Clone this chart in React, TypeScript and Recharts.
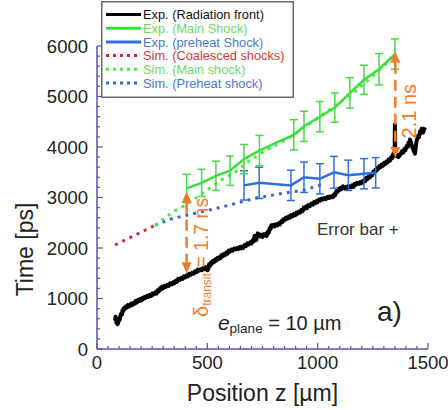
import React from 'react';
import { LineChart, Line, XAxis, YAxis, ErrorBar, ReferenceLine, ReferenceDot, Legend } from 'recharts';

const FONT = '"Liberation Sans", Arial, Helvetica, sans-serif';
const AXIS = '#5252b8';
const ORANGE = '#f07b2c';

// ---- data (x: position z [µm], y: time [ps]) ----
const radiationFront: [number, number][] = [
  [82, 560], [84, 640], [86, 600], [88, 520], [90, 540], [93, 490], [96, 520], [100, 600], [103, 580], [106, 660],
  [110, 700], [113, 680], [116, 770], [119, 750], [122, 810], [126, 790], [130, 840], [135, 820], [140, 870],
  [145, 840], [150, 860], [155, 900], [160, 870], [165, 910], [170, 900], [175, 950], [180, 920], [185, 970],
  [190, 950], [195, 990], [200, 960], [205, 1010], [210, 990], [215, 1030], [220, 1010], [226, 1050], [232, 1030],
  [238, 1070], [245, 1050], [251, 1100], [258, 1080], [264, 1120], [270, 1100], [275, 1160], [280, 1140],
  [285, 1200], [290, 1180], [295, 1230], [300, 1200], [306, 1250], [312, 1230], [318, 1270], [325, 1250],
  [331, 1300], [338, 1280], [344, 1320], [350, 1300], [356, 1350], [362, 1330], [368, 1390], [375, 1370],
  [381, 1410], [388, 1390], [394, 1440], [400, 1420], [406, 1460], [412, 1440], [418, 1490], [425, 1470],
  [431, 1510], [438, 1490], [444, 1540], [450, 1520], [456, 1570], [462, 1550], [468, 1580], [475, 1560],
  [481, 1600], [487, 1580], [492, 1620], [497, 1590], [501, 1560], [505, 1600], [508, 1680], [512, 1640],
  [516, 1710], [520, 1690], [525, 1740], [530, 1720], [535, 1770], [540, 1750], [545, 1800], [550, 1780],
  [555, 1820], [560, 1800], [565, 1860], [570, 1840], [575, 1880], [580, 1860], [586, 1910], [592, 1890],
  [597, 1950], [603, 1930], [609, 1970], [615, 1950], [621, 1990], [628, 1970], [634, 2000], [640, 1980],
  [646, 2020], [652, 1990], [657, 2030], [663, 2000], [669, 2060], [675, 2040], [681, 2090], [688, 2070],
  [694, 2110], [700, 2090], [705, 2150], [710, 2130], [714, 2240], [718, 2200], [722, 2160], [725, 2230],
  [728, 2290], [731, 2250], [736, 2270], [740, 2230], [745, 2260], [750, 2220], [755, 2270], [760, 2250],
  [765, 2280], [769, 2240], [774, 2320], [778, 2300], [782, 2390], [786, 2370], [790, 2450], [794, 2420],
  [800, 2460], [805, 2430], [811, 2470], [817, 2450], [823, 2490], [829, 2470], [835, 2530], [840, 2510],
  [845, 2570], [850, 2550], [856, 2600], [862, 2580], [868, 2620], [874, 2600], [880, 2650], [886, 2630],
  [892, 2670], [898, 2650], [904, 2700], [910, 2680], [915, 2720], [920, 2700], [926, 2750], [932, 2730],
  [937, 2800], [942, 2780], [947, 2820], [952, 2790], [958, 2850], [965, 2830], [971, 2880], [978, 2860],
  [984, 2910], [990, 2890], [995, 2930], [1000, 2910], [1006, 2960], [1012, 2940], [1018, 2980], [1025, 2960],
  [1031, 2990], [1038, 2970], [1044, 3010], [1050, 2990], [1055, 3020], [1060, 3000], [1066, 3030], [1071, 3010],
  [1076, 3070], [1080, 3050], [1085, 3130], [1090, 3110], [1095, 3170], [1100, 3150], [1105, 3190], [1110, 3170],
  [1115, 3220], [1120, 3200], [1125, 3180], [1130, 3210], [1135, 3190], [1140, 3230], [1145, 3210], [1150, 3200],
  [1156, 3240], [1162, 3210], [1167, 3270], [1172, 3250], [1178, 3290], [1185, 3270], [1191, 3300], [1197, 3280],
  [1202, 3320], [1207, 3300], [1212, 3350], [1217, 3330], [1222, 3390], [1227, 3370], [1232, 3420], [1237, 3400],
  [1242, 3460], [1247, 3440], [1252, 3510], [1257, 3490], [1262, 3550], [1267, 3530], [1271, 3590], [1275, 3570],
  [1280, 3620], [1285, 3600], [1290, 3650], [1296, 3630], [1301, 3680], [1306, 3660], [1311, 3710], [1316, 3690],
  [1322, 3750], [1328, 3730], [1333, 3800], [1338, 3780], [1342, 3860], [1346, 3840], [1349, 3900], [1350, 4450],
  [1352, 3860], [1356, 3820], [1360, 3850], [1366, 3800], [1373, 3840], [1378, 3880], [1383, 3920], [1388, 3890],
  [1393, 3960], [1398, 3940], [1403, 4020], [1408, 4000], [1412, 4090], [1415, 4060], [1418, 4150], [1422, 4100],
  [1426, 4040], [1430, 3980], [1434, 3940], [1438, 3900], [1441, 3870], [1444, 3980], [1448, 4120], [1452, 4160],
  [1456, 4230], [1460, 4200], [1464, 4310], [1468, 4280], [1471, 4360], [1475, 4320], [1478, 4290], [1482, 4350],
  [1486, 4390],
];

const mainShockX = [406, 474, 539, 603, 666, 736, 810, 892, 938, 1010, 1078, 1146, 1210, 1278, 1350];
const mainShockY = [3180, 3290, 3430, 3530, 3760, 3930, 4080, 4240, 4410, 4600, 4780, 5070, 5330, 5540, 5840];
const mainShockErr = [280, 270, 290, 290, 290, 300, null, 300, 300, 300, 290, 300, 290, 310, 300];

const preheatX = [666, 735, 879, 938, 1010, 1074, 1139, 1210, 1263];
const preheatY = [3240, 3290, 3240, 3400, 3370, 3500, 3440, 3470, 3490];
const preheatErr = [290, 310, 300, 300, 300, 315, 300, 300, 300];

const simCoalesced: [number, number][] = [[82, 2060], [170, 2250], [263, 2450]];
const simMain: [number, number][] = [
  [263, 2450], [346, 2720], [406, 2860], [505, 3170], [565, 3350], [625, 3500], [693, 3740], [769, 3940],
  [860, 4150], [958, 4440], [1063, 4770], [1162, 5070], [1267, 5470], [1342, 5800],
];
const simPreheat: [number, number][] = [
  [263, 2450], [331, 2570], [406, 2650], [527, 2770], [618, 2870], [731, 3000], [867, 3100], [934, 3140],
  [1015, 3250],
];

const xMajorTicks = [0, 500, 1000, 1500];
const yMajorTicks = [0, 1000, 2000, 3000, 4000, 5000, 6000];
const X_MINOR_STEP = 50;
const Y_MINOR_STEP = 200;

// arrows (transit delays) in data coordinates
const arrowX = [406, 1352];
const arrowBottom = [1500, 3782];
const arrowTop = [3115, 5887];

const legendItems = [
  { label: 'Exp. (Radiation front)', color: '#000000', text: '#111111', dotted: false },
  { label: 'Exp. (Main Shock)', color: '#38e038', text: '#70d860', dotted: false },
  { label: 'Exp. (preheat Shock)', color: '#2e6fe0', text: '#4a78d0', dotted: false },
  { label: 'Sim. (Coalesced shocks)', color: '#d0283a', text: '#d03a3a', dotted: true },
  { label: 'Sim. (Main shock)', color: '#44ee44', text: '#70d860', dotted: true },
  { label: 'Sim. (Preheat shock)', color: '#3a6ad0', text: '#4a78d0', dotted: true },
];

const toPts = (arr: [number, number][]) => arr.map(([x, y]) => ({ x, y }));
const frontData = toPts(radiationFront);
const mainData = mainShockX.map((x, i) => ({ x, y: mainShockY[i], e: mainShockErr[i] ?? 0 }));
const mainErrData = mainData.filter((d, i) => mainShockErr[i] != null);
const preheatData = preheatX.map((x, i) => ({ x, y: preheatY[i], e: preheatErr[i] }));
const coalData = toPts(simCoalesced);
const simMainData = toPts(simMain);
const simPreData = toPts(simPreheat);

const xMinor = Array.from({ length: 1500 / X_MINOR_STEP + 1 }, (_, i) => i * X_MINOR_STEP);
const yMinor = Array.from({ length: 6000 / Y_MINOR_STEP + 1 }, (_, i) => i * Y_MINOR_STEP);

const BottomTick = (p: any) => {
  const { x, y, payload } = p;
  const v = payload.value;
  const major = xMajorTicks.includes(v);
  return (
    <g>
      <line x1={x} x2={x} y1={y} y2={y - (major ? 6 : 3)} stroke={AXIS} strokeWidth={1.2} />
      {major && (
        <text x={x} y={y + 19.5} textAnchor="middle" fontSize={18.5} fill="#222" fontFamily={FONT}>{v}</text>
      )}
    </g>
  );
};
const TopTick = (p: any) => {
  const { x, y, payload } = p;
  const major = xMajorTicks.includes(payload.value);
  return <line x1={x} x2={x} y1={y} y2={y + (major ? 6 : 3)} stroke={AXIS} strokeWidth={1.2} />;
};
const LeftTick = (p: any) => {
  const { x, y, payload } = p;
  const v = payload.value;
  const major = yMajorTicks.includes(v);
  return (
    <g>
      <line x1={x} x2={x + (major ? 6 : 3)} y1={y} y2={y} stroke={AXIS} strokeWidth={1.2} />
      {major && (
        <text x={x - 9} y={y + 6.6} textAnchor="end" fontSize={18.5} fill="#222" fontFamily={FONT}>{v}</text>
      )}
    </g>
  );
};
const RightTick = (p: any) => {
  const { x, y, payload } = p;
  const major = yMajorTicks.includes(payload.value);
  return <line x1={x} x2={x - (major ? 6 : 3)} y1={y} y2={y} stroke={AXIS} strokeWidth={1.2} />;
};

const ArrowShape = (p: any) => {
  const { x1, y1, y2 } = p;
  const top = Math.min(y1, y2);
  const bot = Math.max(y1, y2);
  const head = 11;
  const hw = 5;
  return (
    <g>
      <line x1={x1} x2={x1} y1={top + head} y2={bot - head} stroke={ORANGE} strokeWidth={2.5} strokeDasharray="11 6" />
      <polygon points={`${x1},${top} ${x1 - hw},${top + head} ${x1 + hw},${top + head}`} fill={ORANGE} />
      <polygon points={`${x1},${bot} ${x1 - hw},${bot - head} ${x1 + hw},${bot - head}`} fill={ORANGE} />
    </g>
  );
};

const LegendBox = () => (
  <svg width={193} height={97} style={{ display: 'block' }}>
    <rect x={0.75} y={0.75} width={191.5} height={95.5} fill="#fff" stroke="#6a6a6a" strokeWidth={1.5} />
    {legendItems.map((it, i) => {
      const cy = 13.5 + i * 13.7;
      return (
        <g key={it.label}>
          <line x1={5} x2={40} y1={cy} y2={cy} stroke={it.color} strokeWidth={3} strokeDasharray={it.dotted ? '3 4' : undefined} />
          <text x={42} y={cy + 4.6} fontSize={12.8} fill={it.text} fontFamily={FONT}>{it.label}</text>
        </g>
      );
    })}
  </svg>
);

const notes = {
  transit: { x: 503, y: 634 },
  delay2: { x: 1446, y: 4170 },
  errorBar: { x: 997, y: 2257 },
  eplane: { x: 548, y: 376 },
  panel: { x: 1269, y: 554 },
};

export default function App() {
  return (
    <div style={{ position: 'absolute', left: 0, top: 0, width: 448, height: 410, background: '#fff' }}>
      <LineChart width={448} height={410} margin={{ top: 46, right: 20, bottom: 31, left: 37 }}>
        <XAxis
          xAxisId={0}
          type="number"
          dataKey="x"
          domain={[0, 1500]}
          allowDataOverflow
          ticks={xMinor}
          interval={0}
          tickSize={0}
          tickMargin={0}
          tickLine={false}
          tick={BottomTick}
          height={30}
          axisLine={{ stroke: AXIS, strokeWidth: 1.5 }}
          label={{
            content: (lp: any) => {
              const vb = lp.viewBox || { x: 97, y: 349, width: 331, height: 30 };
              return (
                <text x={vb.x + vb.width / 2} y={vb.y + 51.5} textAnchor="middle" fontSize={23} fill="#222" fontFamily={FONT}>
                  Position z [µm]
                </text>
              );
            },
          }}
        />
        <XAxis
          xAxisId="top"
          orientation="top"
          type="number"
          domain={[0, 1500]}
          ticks={xMinor}
          interval={0}
          tickSize={0}
          tickMargin={0}
          tickLine={false}
          tick={TopTick}
          height={0}
          axisLine={{ stroke: AXIS, strokeWidth: 1.5 }}
        />
        <YAxis
          yAxisId={0}
          type="number"
          domain={[0, 6000]}
          allowDataOverflow
          ticks={yMinor}
          interval={0}
          tickSize={0}
          tickMargin={0}
          tickLine={false}
          tick={LeftTick}
          width={60}
          axisLine={{ stroke: AXIS, strokeWidth: 1.5 }}
          label={{
            content: (lp: any) => {
              const vb = lp.viewBox || { x: 37, y: 46, width: 60, height: 303 };
              const cx = vb.x - 4.5;
              const cy = vb.y + vb.height / 2 + 52;
              return (
                <text x={cx} y={cy} transform={`rotate(-90, ${cx}, ${cy})`} textAnchor="middle" fontSize={23} fill="#222" fontFamily={FONT}>
                  Time [ps]
                </text>
              );
            },
          }}
        />
        <YAxis
          yAxisId="right"
          orientation="right"
          type="number"
          domain={[0, 6000]}
          ticks={yMinor}
          interval={0}
          tickSize={0}
          tickMargin={0}
          tickLine={false}
          tick={RightTick}
          width={0}
          axisLine={{ stroke: AXIS, strokeWidth: 1.5 }}
        />

        <Line data={coalData} dataKey="y" stroke="#d0283a" strokeWidth={3} strokeDasharray="3 5" dot={false} activeDot={false} isAnimationActive={false} />
        <Line data={simPreData} dataKey="y" stroke="#3a6ad0" strokeWidth={3} strokeDasharray="3 5" dot={false} activeDot={false} isAnimationActive={false} />
        <Line data={simMainData} dataKey="y" stroke="#44ee44" strokeWidth={3} strokeDasharray="3 5" dot={false} activeDot={false} isAnimationActive={false} />
        <Line data={frontData} dataKey="y" stroke="#000" strokeWidth={4} strokeLinejoin="round" dot={false} activeDot={false} isAnimationActive={false} />
        <Line data={preheatData} dataKey="y" stroke="#2e6fe0" strokeWidth={2.5} dot={false} activeDot={false} isAnimationActive={false}>
          <ErrorBar dataKey="e" direction="y" width={4} stroke="#2e6fe0" strokeWidth={1.5} />
        </Line>
        <Line data={mainData} dataKey="y" stroke="#38e038" strokeWidth={2.5} dot={false} activeDot={false} isAnimationActive={false} />
        <Line data={mainErrData} dataKey="y" stroke="none" strokeWidth={0} dot={false} activeDot={false} isAnimationActive={false} legendType="none">
          <ErrorBar dataKey="e" direction="y" width={4} stroke="#48d848" strokeWidth={1.5} />
        </Line>

        {arrowX.map((x, i) => (
          <ReferenceLine
            key={`arrow${i}`}
            segment={[{ x, y: arrowBottom[i] }, { x, y: arrowTop[i] }]}
            ifOverflow="visible"
            shape={ArrowShape}
          />
        ))}

        <ReferenceDot
          x={notes.transit.x}
          y={notes.transit.y}
          r={1}
          ifOverflow="visible"
          shape={(p: any) => (
            <text x={p.cx} y={p.cy} transform={`rotate(-90, ${p.cx}, ${p.cy})`} fill={ORANGE} fontFamily={FONT}>
              <tspan fontSize={20}>δ</tspan>
              <tspan fontSize={12} dy={3}>transit</tspan>
              <tspan fontSize={19.5} dy={-3}> = 1.7 ns</tspan>
            </text>
          )}
        />
        <ReferenceDot
          x={notes.delay2.x}
          y={notes.delay2.y}
          r={1}
          ifOverflow="visible"
          shape={(p: any) => (
            <text x={p.cx} y={p.cy} transform={`rotate(-90, ${p.cx}, ${p.cy})`} fill={ORANGE} fontSize={20} fontFamily={FONT}>
              2.1 ns
            </text>
          )}
        />
        <ReferenceDot
          x={notes.errorBar.x}
          y={notes.errorBar.y}
          r={1}
          ifOverflow="visible"
          shape={(p: any) => (
            <text x={p.cx} y={p.cy} fill="#333" fontSize={17} fontFamily={FONT}>Error bar +</text>
          )}
        />
        <ReferenceDot
          x={notes.eplane.x}
          y={notes.eplane.y}
          r={1}
          ifOverflow="visible"
          shape={(p: any) => (
            <text x={p.cx} y={p.cy} fill="#222" fontFamily={FONT}>
              <tspan fontSize={21} fontStyle="italic">e</tspan>
              <tspan fontSize={13.5} dy={3}>plane</tspan>
              <tspan fontSize={20} dy={-3}> = 10 µm</tspan>
            </text>
          )}
        />
        <ReferenceDot
          x={notes.panel.x}
          y={notes.panel.y}
          r={1}
          ifOverflow="visible"
          shape={(p: any) => (
            <text x={p.cx} y={p.cy} fill="#222" fontSize={28} fontFamily={FONT}>a)</text>
          )}
        />

        <Legend
          layout="horizontal"
          verticalAlign="middle"
          align="center"
          content={() => <LegendBox />}
          wrapperStyle={{ left: 101, top: 1, width: 193, height: 97 }}
        />
      </LineChart>
    </div>
  );
}
